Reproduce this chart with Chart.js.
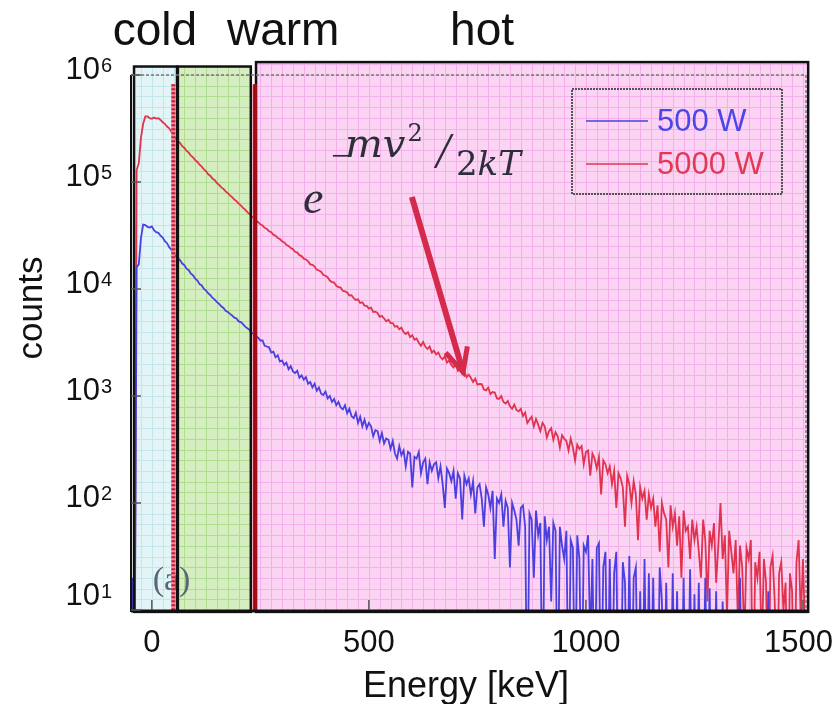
<!DOCTYPE html>
<html>
<head>
<meta charset="utf-8">
<script src="https://cdn.jsdelivr.net/npm/chart.js@4.4.1/dist/chart.umd.min.js"></script>
<style>
  html, body { margin: 0; padding: 0; background: #fff; }
</style>
</head>
<body>
<canvas id="spectrum" width="835" height="704"></canvas>
<script>
// histogram bins: 5 keV wide, first bin at -45 keV
const binStart = -45;
const binWidth = 5;

// 500 W spectrum (counts per bin; 1 = below the 10-count floor)
const counts500 = [
  20, 1, 16000, 17000, 30000, 40000, 39500, 38000, 37500, 38500, 35500, 34000, 33500, 31500, 30200, 28000, 26800, 24600, 23300, 21300,
  20400, 19300, 18600, 17300, 16700, 15500, 15000, 13900, 13400, 12500, 12000, 11100, 10800, 10000, 9650, 9100, 8750, 8250, 7950, 7550,
  7250, 6900, 6650, 6250, 6100, 5850, 5650, 5400, 5300, 4980, 4900, 4700, 4450, 4300, 4150, 3900, 3800, 3600, 3500, 3300,
  3300, 2950, 2900, 2850, 2550, 2600, 2300, 2400, 2100, 2150, 1950, 2050, 1780, 1900, 1700, 1640, 1720, 1480, 1560, 1420,
  1500, 1300, 1350, 1200, 1300, 1120, 1200, 1050, 1020, 1100, 950, 1000, 880, 940, 820, 880, 780, 750, 820, 690,
  760, 650, 620, 700, 560, 640, 520, 600, 500, 560, 520, 420, 480, 470, 380, 450, 360, 400, 390, 320,
  380, 290, 260, 340, 280, 310, 220, 300, 290, 140, 270, 260, 300, 190, 240, 260, 150, 240, 200, 230,
  240, 170, 220, 150, 90, 210, 190, 160, 200, 110, 190, 170, 70, 180, 150, 170, 120, 160, 80, 140,
  150, 110, 60, 140, 120, 90, 130, 30, 110, 100, 120, 60, 105, 90, 25, 100, 85, 70, 40, 90,
  95, 60, 1, 80, 70, 20, 85, 50, 65, 1, 75, 45, 60, 12, 65, 55, 1, 60, 40, 30,
  55, 1, 45, 38, 1, 50, 30, 1, 40, 35, 50, 5, 30, 1, 38, 42, 1, 25, 35, 1,
  30, 1, 22, 35, 1, 1, 28, 18, 1, 32, 1, 20, 25, 1, 15, 1, 30, 1, 22, 1,
  20, 1, 1, 25, 12, 1, 18, 1, 1, 22, 1, 15, 1, 1, 20, 1, 1, 24, 1, 14,
  1, 18, 1, 1, 20, 1, 16, 1, 1, 15, 1, 1, 12, 1, 1, 1, 1, 1, 1, 1,
  20, 1, 1, 1, 1, 1, 1, 1, 1, 1, 1, 1, 1, 15, 1, 1, 1, 1, 1, 1,
  1, 1, 1, 1, 1, 1, 1, 1, 1, 1, 1
];

// 5000 W spectrum
const counts5000 = [
  1, 1, 130000, 150000, 260000, 350000, 410000, 410000, 395000, 390000, 400000, 392000, 395000, 380000, 362000, 350000, 330000, 318000, 295000, 275000,
  255000, 240000, 232000, 216000, 208000, 195000, 188000, 176000, 170000, 160000, 154000, 145000, 139000, 131000, 126000, 118000, 114000, 107000, 104000, 97500,
  94000, 89000, 86300, 81800, 78800, 75000, 72300, 68500, 66300, 62800, 60500, 57300, 55200, 52300, 50300, 47700, 46000, 43600, 42100, 40200,
  39200, 37300, 36400, 34700, 33900, 32200, 31500, 30000, 29300, 27900, 27200, 25900, 25300, 24100, 23600, 22300, 21900, 20700, 20300, 19200,
  18900, 18100, 17000, 16800, 16200, 15100, 14900, 14500, 13500, 13300, 12900, 12000, 11600, 11500, 10700, 10400, 10300, 9600, 9500, 9300,
  8700, 8750, 8200, 7900, 8000, 7400, 7500, 7000, 6950, 6550, 6700, 6100, 6150, 5950, 5500, 5600, 5300, 5000, 5150, 4800,
  4800, 4450, 4500, 4200, 4350, 3950, 3800, 3950, 3550, 3700, 3350, 3450, 3150, 2950, 3200, 2900, 2750, 2900, 2550, 2650,
  2450, 2550, 2300, 2200, 2350, 2050, 2150, 1950, 1850, 2000, 1720, 1800, 1620, 1700, 1500, 1580, 1480, 1350, 1450, 1280,
  1300, 1290, 1150, 1130, 1200, 1040, 1090, 1080, 950, 940, 1000, 880, 850, 900, 800, 760, 830, 740, 720, 760,
  650, 700, 560, 600, 640, 520, 610, 540, 470, 560, 520, 410, 470, 500, 390, 460, 420, 330, 430, 400,
  380, 310, 400, 330, 250, 350, 320, 340, 230, 300, 310, 180, 290, 260, 210, 270, 120, 250, 230, 190,
  220, 150, 200, 90, 190, 170, 140, 60, 180, 150, 100, 160, 120, 45, 140, 110, 130, 70, 120, 90,
  110, 60, 95, 35, 100, 80, 70, 25, 95, 60, 80, 40, 75, 20, 85, 55, 60, 30, 70, 45,
  60, 35, 20, 70, 45, 12, 55, 40, 65, 18, 40, 100, 30, 50, 9, 55, 35, 22, 45, 8,
  40, 25, 5, 38, 30, 45, 1, 28, 20, 35, 4, 30, 18, 1, 25, 32, 12, 1, 22, 28,
  10, 18, 1, 22, 15, 1, 28, 45, 8, 30, 6
];

const seriesNames = ['500 W', '5000 W'];
const xTicks = [0, 500, 1000, 1500];
const yTickPowers = [1, 2, 3, 4, 5, 6];

// energy windows (keV) drawn behind the spectra
const regionNames = ['cold', 'warm', 'hot'];
const regionStart = [-41, 60, 240];
const regionEnd = [58, 228, 1512];
const regionTop = [1.2e6, 1.2e6, 1.32e6];
const regionLabelAt = [-90, 173, 687];
const regionFloor = 9.6;
const markerAt = [49.5, 237];
const markerTop = 8.2e5;

// formula and arrow anchors in data units [keV, counts]
const formulaAt = [348, 51300];
const arrowFrom = [599, 72400];
const arrowTo = [717, 1675];

const energy = counts500.map((_, i) => binStart + i * binWidth);

const SANS = '"Liberation Sans", Arial, sans-serif';
const SERIF = '"Liberation Serif", "Times New Roman", serif';
const MATH = '"DejaVu Serif", serif';
const regionFill = ['#e2f4f6', '#d5eec0', '#fbd3f3'];
const regionGrid = ['#c3e5eb', '#b0dc8f', '#f4b0eb'];
const lineColors = ['#4a40e0', '#e0344e'];
const legendText = ['#4b46e6', '#e23a55'];

const backdrop = {
  id: 'backdrop',
  beforeDatasetsDraw(chart) {
    const { ctx, scales: { x, y } } = chart;
    regionNames.forEach((name, i) => {
      const left = x.getPixelForValue(regionStart[i]);
      const right = x.getPixelForValue(regionEnd[i]);
      const top = y.getPixelForValue(regionTop[i]);
      const bottom = y.getPixelForValue(regionFloor);
      ctx.save();
      ctx.fillStyle = regionFill[i];
      ctx.fillRect(left, top, right - left, bottom - top);
      ctx.beginPath();
      ctx.rect(left, top, right - left, bottom - top);
      ctx.clip();
      ctx.strokeStyle = regionGrid[i];
      ctx.lineWidth = 1;
      ctx.beginPath();
      for (let e = -50; e <= 1525; e += 25) {
        const px = Math.round(x.getPixelForValue(e)) + 0.5;
        ctx.moveTo(px, top);
        ctx.lineTo(px, bottom);
      }
      for (let k = 9; k <= 62; k++) {
        const py = Math.round(y.getPixelForValue(Math.pow(10, k / 10))) + 0.5;
        ctx.moveTo(left, py);
        ctx.lineTo(right, py);
      }
      ctx.stroke();
      ctx.restore();
    });

    // panel tag
    ctx.save();
    ctx.font = '34px ' + SERIF;
    ctx.fillStyle = '#5b6478';
    ctx.textBaseline = 'alphabetic';
    ctx.fillText('(a)', x.getPixelForValue(2), y.getPixelForValue(10) - 20);
    ctx.restore();
  }
};

const overlay = {
  id: 'overlay',
  afterDatasetsDraw(chart) {
    const { ctx, chartArea: area, scales: { x, y } } = chart;
    ctx.save();

    // region boxes
    ctx.strokeStyle = '#111';
    ctx.lineWidth = 2.5;
    regionNames.forEach((name, i) => {
      const left = x.getPixelForValue(regionStart[i]);
      const right = x.getPixelForValue(regionEnd[i]);
      const top = y.getPixelForValue(regionTop[i]);
      const bottom = y.getPixelForValue(regionFloor);
      ctx.strokeRect(left, top, right - left, bottom - top);
    });

    // red boundary markers
    const mTop = y.getPixelForValue(markerTop);
    const mBottom = y.getPixelForValue(regionFloor);
    const m0 = x.getPixelForValue(markerAt[0]);
    ctx.lineWidth = 4;
    ctx.strokeStyle = '#eb8c98';
    ctx.beginPath(); ctx.moveTo(m0, mTop); ctx.lineTo(m0, mBottom); ctx.stroke();
    ctx.strokeStyle = '#c8203c';
    ctx.setLineDash([2, 2]);
    ctx.beginPath(); ctx.moveTo(m0, mTop); ctx.lineTo(m0, mBottom); ctx.stroke();
    ctx.setLineDash([]);
    const m1 = x.getPixelForValue(markerAt[1]);
    ctx.strokeStyle = '#d0101e';
    ctx.lineWidth = 4;
    ctx.beginPath(); ctx.moveTo(m1, mTop); ctx.lineTo(m1, mBottom); ctx.stroke();
    ctx.strokeStyle = '#9a0010';
    ctx.lineWidth = 1.5;
    ctx.beginPath(); ctx.moveTo(m1, mTop); ctx.lineTo(m1, mBottom); ctx.stroke();

    // plot frame
    ctx.strokeStyle = '#777';
    ctx.lineWidth = 1.5;
    ctx.setLineDash([3, 2]);
    ctx.beginPath();
    ctx.moveTo(area.left, area.top); ctx.lineTo(area.right, area.top);
    ctx.moveTo(area.right, area.top); ctx.lineTo(area.right, area.bottom);
    ctx.stroke();
    ctx.setLineDash([]);
    ctx.strokeStyle = '#111';
    ctx.lineWidth = 2;
    ctx.beginPath();
    ctx.moveTo(area.left, area.top); ctx.lineTo(area.left, area.bottom + 2);
    ctx.stroke();
    ctx.lineWidth = 3;
    ctx.beginPath();
    ctx.moveTo(area.left, area.bottom + 1); ctx.lineTo(x.getPixelForValue(regionEnd[2]), area.bottom + 1);
    ctx.stroke();

    // inner ticks
    ctx.strokeStyle = '#555';
    ctx.lineWidth = 1.5;
    ctx.beginPath();
    yTickPowers.forEach(p => {
      const py = y.getPixelForValue(Math.pow(10, p));
      ctx.moveTo(area.left, py); ctx.lineTo(area.left + 10, py);
    });
    xTicks.forEach(v => {
      const px = x.getPixelForValue(v);
      ctx.moveTo(px, area.bottom); ctx.lineTo(px, area.bottom - 10);
    });
    ctx.stroke();

    // y tick labels 10^n
    ctx.fillStyle = '#111';
    yTickPowers.forEach(p => {
      const py = y.getPixelForValue(Math.pow(10, p));
      const base = Math.min(py + 4, area.bottom - 5);
      ctx.font = '31px ' + SANS;
      ctx.textAlign = 'right';
      ctx.fillText('10', 100, base);
      ctx.font = '20px ' + SANS;
      ctx.textAlign = 'left';
      ctx.fillText(String(p), 101, base - 7);
    });

    // x tick labels (last one kept inside the canvas)
    ctx.font = '31px ' + SANS;
    ctx.textAlign = 'center';
    xTicks.forEach(v => {
      const label = String(v);
      const half = ctx.measureText(label).width / 2;
      const px = Math.min(x.getPixelForValue(v), chart.width - 2 - half);
      ctx.fillText(label, px, 652);
    });

    // axis titles
    ctx.font = '36px ' + SANS;
    ctx.fillText('Energy [keV]', 466, 697);
    ctx.save();
    ctx.translate(42, 308);
    ctx.rotate(-Math.PI / 2);
    ctx.font = '35px ' + SANS;
    ctx.fillText('counts', 0, 0);
    ctx.restore();

    // region names above the plot
    ctx.font = '46px ' + SANS;
    ctx.textAlign = 'left';
    regionNames.forEach((name, i) => ctx.fillText(name, x.getPixelForValue(regionLabelAt[i]), 45));

    // Maxwellian formula  e^(-mv^2/2kT)
    const fx = x.getPixelForValue(formulaAt[0]);
    const fy = y.getPixelForValue(formulaAt[1]);
    ctx.fillStyle = '#2e2e3a';
    ctx.font = 'italic 46px ' + SERIF;
    ctx.fillText('e', fx, fy);
    ctx.font = '34px ' + SERIF;
    ctx.fillText('\u2212', fx + 28, fy - 46);
    ctx.font = 'italic 40px ' + MATH;
    ctx.fillText('mv', fx + 42, fy - 56);
    const mvW = ctx.measureText('mv').width;
    ctx.font = '24px ' + MATH;
    ctx.fillText('2', fx + 44 + mvW, fy - 72);
    ctx.font = 'italic 50px ' + SERIF;
    ctx.fillText('/', fx + 133, fy - 46);
    ctx.font = '34px ' + MATH;
    ctx.fillText('2', fx + 153, fy - 38);
    const twoW = ctx.measureText('2').width;
    ctx.font = 'italic 34px ' + MATH;
    ctx.fillText('kT', fx + 153 + twoW, fy - 38);

    // arrow to the slope
    const ax0 = x.getPixelForValue(arrowFrom[0]), ay0 = y.getPixelForValue(arrowFrom[1]);
    const ax1 = x.getPixelForValue(arrowTo[0]), ay1 = y.getPixelForValue(arrowTo[1]);
    const ang = Math.atan2(ay1 - ay0, ax1 - ax0);
    ctx.strokeStyle = '#d42a4c';
    ctx.lineWidth = 6;
    ctx.lineCap = 'butt';
    ctx.beginPath();
    ctx.moveTo(ax0, ay0);
    ctx.lineTo(ax1 - 6 * Math.cos(ang), ay1 - 6 * Math.sin(ang));
    ctx.stroke();
    ctx.lineWidth = 5;
    ctx.lineJoin = 'miter';
    ctx.beginPath();
    ctx.moveTo(ax1 - 26 * Math.cos(ang - 0.45), ay1 - 26 * Math.sin(ang - 0.45));
    ctx.lineTo(ax1, ay1);
    ctx.lineTo(ax1 - 26 * Math.cos(ang + 0.45), ay1 - 26 * Math.sin(ang + 0.45));
    ctx.stroke();

    // legend
    const lw = 210, lh = 105;
    const lx = area.right - 234, ly = area.top + 14;
    ctx.strokeStyle = '#555';
    ctx.lineWidth = 2;
    ctx.setLineDash([2, 1]);
    ctx.strokeRect(lx, ly, lw, lh);
    ctx.setLineDash([]);
    ctx.font = '31px ' + SANS;
    ctx.textBaseline = 'middle';
    seriesNames.forEach((name, i) => {
      const ry = ly + 32 + i * 43;
      ctx.strokeStyle = lineColors[i];
      ctx.lineWidth = 1.5;
      ctx.beginPath(); ctx.moveTo(lx + 14, ry); ctx.lineTo(lx + 76, ry); ctx.stroke();
      ctx.fillStyle = legendText[i];
      ctx.fillText(name, lx + 85, ry + 1);
    });

    ctx.restore();
  }
};

new Chart(document.getElementById('spectrum'), {
  type: 'line',
  data: {
    datasets: [
      {
        label: seriesNames[0],
        data: energy.map((e, i) => ({ x: e, y: counts500[i] })),
        borderColor: lineColors[0],
        borderWidth: 1.8,
        pointRadius: 0,
        tension: 0,
      },
      {
        label: seriesNames[1],
        data: energy.map((e, i) => ({ x: e, y: counts5000[i] })),
        borderColor: lineColors[1],
        borderWidth: 1.8,
        pointRadius: 0,
        tension: 0,
      },
    ],
  },
  options: {
    responsive: false,
    animation: false,
    devicePixelRatio: 1,
    parsing: false,
    layout: { padding: { left: 131, right: 29, top: 75, bottom: 94 } },
    scales: {
      x: { type: 'linear', min: -48, max: 1507, display: false },
      y: { type: 'logarithmic', min: 10, max: 1e6, display: false },
    },
    plugins: {
      legend: { display: false },
      tooltip: { enabled: false },
    },
  },
  plugins: [backdrop, overlay],
});
</script>
</body>
</html>
